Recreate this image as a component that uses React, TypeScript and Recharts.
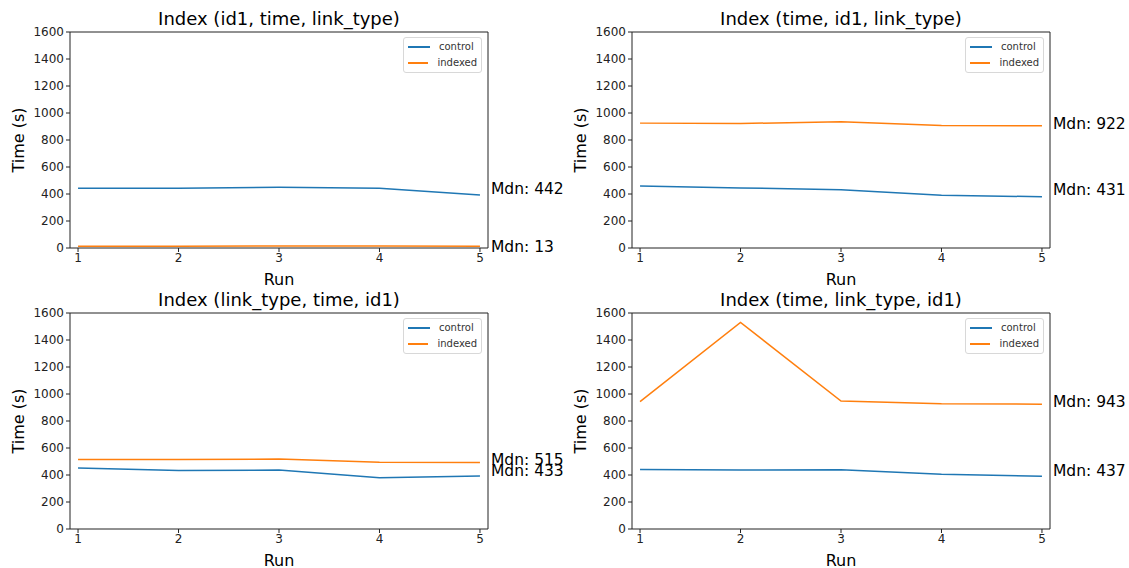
import React from "react"
import { LineChart, Line, XAxis, YAxis, ReferenceArea, ReferenceDot, Label } from "recharts"

const runs = [1, 2, 3, 4, 5]
const yTicks = [0, 200, 400, 600, 800, 1000, 1200, 1400, 1600]

const titles = [
  "Index (id1, time, link_type)",
  "Index (time, id1, link_type)",
  "Index (link_type, time, id1)",
  "Index (time, link_type, id1)",
]

const controlTimes = [
  [442, 442, 450, 442, 393],
  [460, 445, 431, 390, 380],
  [452, 433, 437, 380, 392],
  [440, 437, 438, 405, 390],
]

const indexedTimes = [
  [13, 13, 15, 14, 13],
  [925, 922, 935, 908, 905],
  [515, 515, 518, 495, 493],
  [943, 1530, 948, 927, 925],
]

const seriesNames = ["control", "indexed"]
const seriesColors = ["#1f77b4", "#ff7f0e"]
const FONT = "'DejaVu Sans', sans-serif"

const median = (arr: number[]) => {
  const s = [...arr].sort((a, b) => a - b)
  return s[Math.floor(s.length / 2)]
}

function LegendBox() {
  return (
    <div
      style={{
        position: "absolute",
        left: 403,
        top: 37,
        width: 79,
        height: 36,
        boxSizing: "border-box",
        border: "1px solid #d8d8d8",
        borderRadius: 3,
        background: "rgba(255,255,255,0.8)",
        padding: "1px 4px 0 4px",
        fontSize: 10,
        lineHeight: "16px",
        fontFamily: FONT,
        color: "#333",
      }}
    >
      {seriesNames.map((n, i) => (
        <div key={n} style={{ display: "flex", alignItems: "center" }}>
          <span style={{ display: "inline-block", width: 22, height: 2, background: seriesColors[i], marginRight: 9 }} />
          {n}
        </div>
      ))}
    </div>
  )
}

function YLabel(props: any) {
  const vb = props.viewBox || { x: 0, y: 0, width: 0, height: 0 }
  const cy = vb.y + vb.height / 2
  return (
    <text x={18} y={cy} transform={`rotate(-90, 18, ${cy})`} textAnchor="middle" dominantBaseline="central"
      fontSize={16} fontFamily={FONT} fill="#000">
      Time (s)
    </text>
  )
}

function Panel({ idx, left, top }: { idx: number; left: number; top: number }) {
  const data = runs.map((r, i) => ({ run: r, control: controlTimes[idx][i], indexed: indexedTimes[idx][i] }))
  const mc = median(controlTimes[idx])
  const mi = median(indexedTimes[idx])
  const tick = { fontSize: 12, fill: "#222", fontFamily: FONT }
  return (
    <div style={{ position: "absolute", left, top, width: 567, height: 292 }}>
      <div style={{ position: "absolute", left: 70, top: 8, width: 418, textAlign: "center", fontSize: 18, lineHeight: "22px", fontFamily: FONT }}>
        {titles[idx]}
      </div>
      {/* extra room on the right so the Mdn labels are not clipped */}
      <LineChart width={567} height={292} data={data} margin={{ top: 32, right: 79, left: 0, bottom: 0 }}>
        <XAxis dataKey="run" type="number" domain={[0.92, 5.08]} ticks={runs} height={44} axisLine={false}
          tickSize={4} tickLine={{ stroke: "#222" }} tick={tick} tickMargin={1} interval={0} allowDataOverflow>
          <Label value="Run" position="insideBottom" offset={7} fontSize={16} fill="#000" fontFamily={FONT} />
        </XAxis>
        <YAxis domain={[0, 1600]} ticks={yTicks} width={70} axisLine={false} tickSize={4}
          tickLine={{ stroke: "#222" }} tick={tick} tickMargin={2} interval={0}>
          <Label content={<YLabel />} />
        </YAxis>
        <ReferenceArea x1={0.92} x2={5.08} y1={0} y2={1600} fill="none" stroke="#222" strokeWidth={1} />
        <Line type="linear" dataKey="control" name={seriesNames[0]} stroke={seriesColors[0]} strokeWidth={1.5} dot={false} isAnimationActive={false} />
        <Line type="linear" dataKey="indexed" name={seriesNames[1]} stroke={seriesColors[1]} strokeWidth={1.5} dot={false} isAnimationActive={false} />
        <ReferenceDot x={5} y={mc} r={0} ifOverflow="visible"
          label={{ value: `Mdn: ${mc}`, position: "right", offset: 11, fontSize: 15.5, fill: "#000", fontFamily: FONT }} />
        <ReferenceDot x={5} y={mi} r={0} ifOverflow="visible"
          label={{ value: `Mdn: ${mi}`, position: "right", offset: 11, fontSize: 15.5, fill: "#000", fontFamily: FONT }} />
      </LineChart>
      <LegendBox />
    </div>
  )
}

export default function App() {
  return (
    <div style={{ position: "absolute", left: 0, top: 0, width: 1129, height: 568, overflow: "hidden", background: "#fff", fontFamily: FONT }}>
      <Panel idx={0} left={0} top={0} />
      <Panel idx={1} left={562} top={0} />
      <Panel idx={2} left={0} top={281} />
      <Panel idx={3} left={562} top={281} />
    </div>
  )
}
